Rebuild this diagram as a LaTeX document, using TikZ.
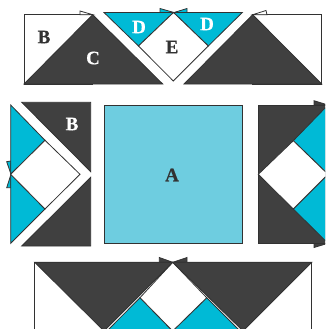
\documentclass[tikz,border=0pt]{standalone}
\usepackage{fontspec}
\setmainfont{Liberation Serif}[BoldFeatures={FakeBold=0.5}]
\definecolor{QuiltDark}{RGB}{64, 64, 64}
\definecolor{QuiltTeal}{RGB}{0, 186, 214}
\definecolor{QuiltSky}{RGB}{110, 205, 224}
\definecolor{QuiltLine}{RGB}{50, 50, 50}
\tikzset{
  darkpatch/.style={fill=QuiltDark, draw=QuiltLine, line width=0.8pt},
  tealpatch/.style={fill=QuiltTeal, draw=QuiltLine, line width=0.8pt},
  skypatch/.style={fill=QuiltSky, draw=QuiltLine, line width=0.8pt},
  whitepatch/.style={fill=white, draw=QuiltLine, line width=0.8pt},
  letterdark/.style={text=QuiltLine, font=\fontsize{19}{22}\selectfont\bfseries, inner sep=0pt},
  letterlight/.style={text=white, font=\fontsize{19}{22}\selectfont\bfseries, inner sep=0pt}
}

\begin{document}
\begin{tikzpicture}[x=1pt,y=-1pt]
  \path[use as bounding box] (0,0) rectangle (325,329);
  \clip (0,0) rectangle (325,329);

  % top row
  \draw[whitepatch] (24,14.7) rectangle (92.7,84);
  \draw[whitepatch] (80,14.7) -- (80,11) -- (92.7,14.7) -- cycle;
  \draw[darkpatch] (24,84) -- (92.7,14.7) -- (162.7,84) -- cycle;
  \draw[tealpatch] (174,12.5) -- (160,8.5) -- (160,12.5) -- cycle;
  \draw[tealpatch] (174,12.5) -- (187,8.5) -- (187,12.5) -- cycle;
  \draw[tealpatch] (104,12.5) -- (173.5,12.5) -- (138.5,46) -- cycle;
  \draw[tealpatch] (173.5,12.5) -- (242.3,12.5) -- (208.3,46) -- cycle;
  \draw[whitepatch] (173.5,12.5) -- (208.3,46) -- (173.3,81) -- (138.5,46) -- cycle;
  \draw[whitepatch] (252.7,14.7) rectangle (321.7,84);
  \draw[whitepatch] (252.7,14.7) -- (266,10.5) -- (267,14.7) -- cycle;
  \draw[darkpatch] (184,84) -- (252.7,14.7) -- (321.7,84) -- cycle;

  % left block
  \draw[tealpatch] (11,174.3) -- (6.7,161.7) -- (10.7,161) -- cycle;
  \draw[tealpatch] (11,174.3) -- (6.7,187.7) -- (10.7,187.7) -- cycle;
  \draw[tealpatch] (10.7,105) -- (45,140.3) -- (10.7,174.3) -- cycle;
  \draw[tealpatch] (10.7,174.3) -- (45,209) -- (10.7,243.3) -- cycle;
  \draw[whitepatch] (10.7,174.3) -- (45,140.3) -- (80,174.3) -- (45,209) -- cycle;
  \draw[darkpatch] (21.7,102.3) -- (90.7,102.3) -- (90.7,171.7) -- cycle;
  \draw[darkpatch] (90.7,177.3) -- (90.7,246) -- (21.7,246) -- cycle;

  % centre square
  \draw[skypatch] (104,105) rectangle (242.3,243.3);

  % right block
  \draw[darkpatch] (314,100.7) -- (328,105) -- (314,105) -- cycle;
  \draw[darkpatch] (314,247.5) -- (328,243.3) -- (314,243.3) -- cycle;
  \draw[darkpatch] (258.3,105) rectangle (328,243.3);
  \draw[tealpatch] (328,105) -- (293.3,140.7) -- (328,174.3) -- cycle;
  \draw[tealpatch] (328,174.3) -- (293.3,209) -- (328,243.3) -- cycle;
  \draw[whitepatch] (258.3,174.3) -- (293.3,140.7) -- (328,174.3) -- (293.3,209) -- cycle;

  % bottom block
  \draw[darkpatch] (172.7,262.3) -- (159.3,257.5) -- (159.3,262.3) -- cycle;
  \draw[darkpatch] (172.7,262.3) -- (187,257.5) -- (187,262.3) -- cycle;
  \draw[whitepatch] (34.7,262.3) rectangle (311.7,340);
  \draw[tealpatch] (140,297.7) -- (172.7,331) -- (107,331) -- cycle;
  \draw[tealpatch] (206.7,297.7) -- (240,331) -- (172.7,331) -- cycle;
  \draw[whitepatch] (172.7,262.3) -- (206.7,297.7) -- (172.7,331) -- (140,297.7) -- cycle;
  \draw[darkpatch] (34.7,262.3) -- (172.7,262.3) -- (104,331) -- cycle;
  \draw[darkpatch] (172.7,262.3) -- (311.7,262.3) -- (243,331) -- cycle;

  \node[letterdark] (patchBa) at (44,37) {B};
  \node[letterlight] (patchC) at (93,58) {C};
  \node[letterlight] (patchDa) at (139,27) {D};
  \node[letterlight] (patchDb) at (207,24) {D};
  \node[letterdark] (patchE) at (172,47) {E};
  \node[letterlight] (patchBb) at (72,124) {B};
  \node[letterdark] (patchA) at (172,175) {A};
\end{tikzpicture}
\end{document}
